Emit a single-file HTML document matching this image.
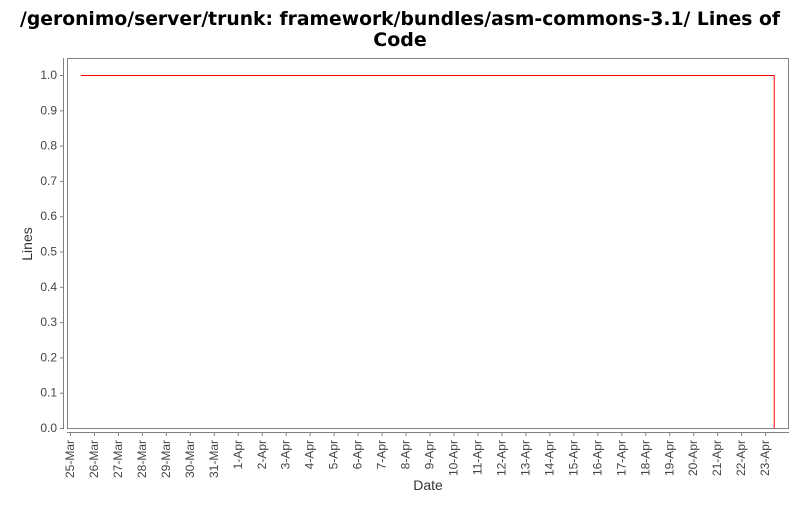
<!DOCTYPE html>
<html><head><meta charset="utf-8"><style>
body{margin:0;background:#fff;width:800px;height:500px;overflow:hidden;font-family:"Liberation Sans",sans-serif}
</style></head><body>
<svg width="800" height="500">
<text x="400" y="25" text-anchor="middle" font-size="19" font-weight="bold" font-family="DejaVu Sans, sans-serif" textLength="760" lengthAdjust="spacingAndGlyphs">/geronimo/server/trunk: framework/bundles/asm-commons-3.1/ Lines of</text>
<text x="400" y="46" text-anchor="middle" font-size="19" font-weight="bold" font-family="DejaVu Sans, sans-serif">Code</text>
<rect x="67.5" y="58.5" width="721" height="370" fill="#fff" stroke="#808080"/>
<line x1="63.5" y1="58" x2="63.5" y2="429" stroke="#808080"/>
<line x1="67" y1="432.5" x2="789" y2="432.5" stroke="#808080"/>
<g id="yt"></g><g id="xt"></g><g id="series"></g>
<text x="32" y="244" text-anchor="middle" font-size="14" fill="#333" transform="rotate(-90 32 244)">Lines</text>
<text x="428" y="490" text-anchor="middle" font-size="14" fill="#333">Date</text>
</svg>
<script>
const yTicks=[0,0.1,0.2,0.3,0.4,0.5,0.6,0.7,0.8,0.9,1.0];
const xLabels=["25-Mar","26-Mar","27-Mar","28-Mar","29-Mar","30-Mar","31-Mar","1-Apr","2-Apr","3-Apr","4-Apr","5-Apr","6-Apr","7-Apr","8-Apr","9-Apr","10-Apr","11-Apr","12-Apr","13-Apr","14-Apr","15-Apr","16-Apr","17-Apr","18-Apr","19-Apr","20-Apr","21-Apr","22-Apr","23-Apr"];
const seriesDays=[0.46,29.38,29.38];
const seriesValues=[1,1,0];
const NS="http://www.w3.org/2000/svg";
const yScale=v=>428-v*353;
const xScale=d=>70+d*23.97;
function mk(tag,attrs,parent){const e=document.createElementNS(NS,tag);for(const k in attrs)e.setAttribute(k,attrs[k]);document.getElementById(parent).appendChild(e);return e;}
yTicks.forEach(v=>{
 const y=yScale(v);
 const l=mk('line',{x1:60,x2:63,y1:y+0.5,y2:y+0.5,stroke:'#808080'},'yt');
 
 
 const t=mk('text',{x:57,y:y+4,'text-anchor':'end','font-size':12,fill:'#444'},'yt');
 t.textContent=v.toFixed(1);
 
 
});
xLabels.forEach((s,i)=>{
 const x=xScale(i);
 const l=mk('line',{x1:x+0.5,x2:x+0.5,y1:432,y2:436,stroke:'#808080'},'xt');
 
 
 const t=mk('text',{x:x+4,y:440,'text-anchor':'end','font-size':12,fill:'#444',transform:`rotate(-90 ${x+4} 440)`},'xt');
 t.textContent=s;
 
 
});
const pts=seriesDays.map((d,i)=>xScale(d)+','+(yScale(seriesValues[i])+0.5)).join(' ');
const p=mk('polyline',{points:pts,fill:'none',stroke:'#ff0000','stroke-width':1},'series');


</script>
</body></html>
